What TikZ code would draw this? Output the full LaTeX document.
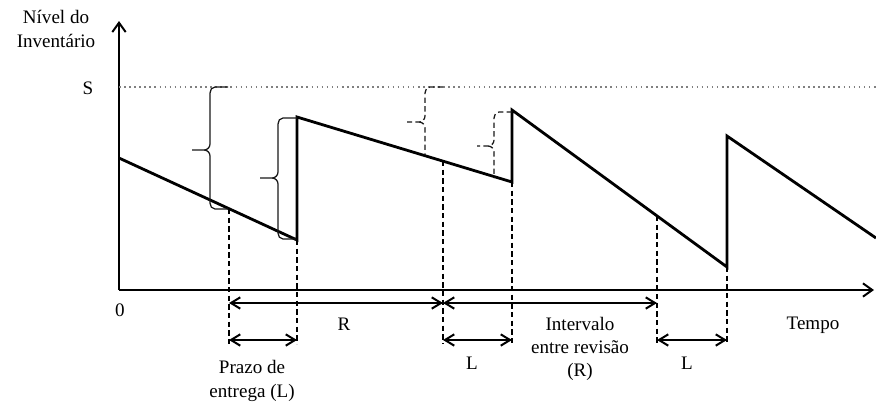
\documentclass[tikz,border=0pt]{standalone}
\usepackage{fontspec}
\setmainfont{Liberation Serif}
\usetikzlibrary{arrows.meta,calc}
\begin{document}
\begin{tikzpicture}[x=0.75pt,y=-0.75pt,
  saw/.style={line width=2.1pt,line join=miter},
  axis/.style={line width=1.1pt,-{Straight Barb[length=7pt,width=10pt,line width=1.5pt]}},
  dim/.style={line width=1.1pt,{Straight Barb[length=7pt,width=8.5pt,line width=1.5pt]}-{Straight Barb[length=7pt,width=8.5pt,line width=1.5pt]}},
  guide/.style={line width=0.85pt,dash pattern=on 4pt off 2.5pt},
  bracestyle/.style={line width=0.95pt,black!90},
  dbrace/.style={bracestyle,dash pattern=on 4pt off 2.5pt},
  lbl/.style={font=\fontsize{14.3}{17.5}\selectfont,align=center,inner sep=0pt}]
\useasboundingbox (0,0) rectangle (876,405);
% axes
\coordinate (O) at (119,290);
\coordinate (Ytop) at (119,21);
\coordinate (Xend) at (874,290);
\draw[axis] (O) -- (Ytop);
\draw[axis] (O) -- (Xend);
% S level
\coordinate (S0) at (119,87);
\coordinate (S1) at (876,87);
\draw[gray,line width=0.8pt,dash pattern=on 1.2pt off 2.6pt] (S0) -- (S1);
% sawtooth
\coordinate (A) at (119,158);
\coordinate (B) at (297,240);
\coordinate (C) at (297,117);
\coordinate (D) at (512,182);
\coordinate (E) at (512,110);
\coordinate (F) at (727,267);
\coordinate (G) at (727,136);
\coordinate (H) at (876,238);
\draw[saw] (A) -- (B) -- (C) -- (D) -- (E) -- (F) -- (G) -- (H);
% guide points
\coordinate (g1t) at (229,209);
\coordinate (g1b) at (229,344);
\coordinate (g2b) at (297,344);
\coordinate (g3t) at (443,161);
\coordinate (g3b) at (443,344);
\coordinate (g4b) at (512,344);
\coordinate (g5t) at (657,216);
\coordinate (g5b) at (657,344);
\coordinate (g6b) at (727,344);
\draw[guide] (g1t) -- (g1b);
\draw[guide] (B) -- (g2b);
\draw[guide] (g3t) -- (g3b);
\draw[guide] (D) -- (g4b);
\draw[guide] (g5t) -- (g5b);
\draw[guide] (F) -- (g6b);
% dimension arrows
\coordinate (r1a) at (229,303);
\coordinate (r1b) at (443,303);
\coordinate (r2a) at (443,303);
\coordinate (r2b) at (657,303);
\coordinate (l1a) at (229,340);
\coordinate (l1b) at (297,340);
\coordinate (l2a) at (443,340);
\coordinate (l2b) at (512,340);
\coordinate (l3a) at (657,340);
\coordinate (l3b) at (727,340);
\draw[dim] (r1a) -- (r1b);
\draw[dim] (r2a) -- (r2b);
\draw[dim] (l1a) -- (l1b);
\draw[dim] (l2a) -- (l2b);
\draw[dim] (l3a) -- (l3b);
% braces
\draw[bracestyle] (228,87) -- (215,87) to[out=180,in=90] (210,93) -- (210,144)
  to[out=-90,in=0] (204,150) -- (192,150)
  (204,150) to[out=0,in=90] (210,156) -- (210,203) to[out=-90,in=180] (215,209) -- (228,209);
\draw[bracestyle] (297,118) -- (283,118) to[out=180,in=90] (278,124) -- (278,172)
  to[out=-90,in=0] (272,178) -- (260,178)
  (272,178) to[out=0,in=90] (278,184) -- (278,233) to[out=-90,in=180] (283,239) -- (296,239);
\draw[dbrace] (443,87) -- (430,87) to[out=180,in=90] (425,93) -- (425,116)
  to[out=-90,in=0] (419,122) -- (407,122)
  (419,122) to[out=0,in=90] (425,128) -- (425,155);
\draw[dbrace] (512,112) -- (499,112) to[out=180,in=90] (494,118) -- (494,140)
  to[out=-90,in=0] (488,146) -- (477,146)
  (488,146) to[out=0,in=90] (494,152) -- (494,178);
% labels
\node[lbl] (ylab) at (56,29) {Nível do\\Inventário};
\node[lbl] (slab) at (88,88) {S};
\node[lbl] (zero) at (120,310) {0};
\node[lbl] (rlab) at (344,324) {R};
\node[lbl] (prazo) at (252,381) {Prazo de\\entrega (L)};
\node[lbl] (llab1) at (472,363) {L};
\node[lbl] (interv) at (580,349) {Intervalo\\entre revisão\\(R)};
\node[lbl] (llab2) at (687,363) {L};
\node[lbl] (tempo) at (813,325) {Tempo};
\end{tikzpicture}
\end{document}
